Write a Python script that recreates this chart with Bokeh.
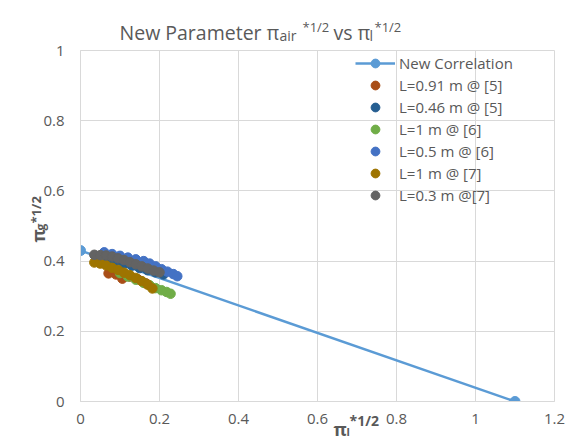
import math
from bokeh.plotting import figure
from bokeh.models import Legend, LegendItem, FixedTicker, Range1d
from bokeh.core.properties import value
from bokeh.embed import file_html
from bokeh.resources import INLINE

# ---------------- data ----------------
corr_x = [0.0, 1.1]
corr_y = [0.43, 0.0]

l091_5_x = [0.071, 0.09, 0.106, 0.125, 0.145, 0.165]
l091_5_y = [0.365, 0.362, 0.350, 0.356, 0.348, 0.337]

l046_5_x = [0.07, 0.09, 0.11, 0.13, 0.15, 0.17, 0.19, 0.21]
l046_5_y = [0.405, 0.400, 0.393, 0.387, 0.380, 0.374, 0.368, 0.362]

l1_6_x = [0.10, 0.12, 0.14, 0.16, 0.175, 0.19, 0.205, 0.218, 0.228]
l1_6_y = [0.366, 0.356, 0.347, 0.338, 0.331, 0.323, 0.317, 0.312, 0.307]

l05_6_x = [0.06, 0.08, 0.10, 0.12, 0.14, 0.16, 0.175, 0.19, 0.205, 0.22, 0.235, 0.245]
l05_6_y = [0.425, 0.420, 0.415, 0.410, 0.405, 0.400, 0.393, 0.385, 0.377, 0.370, 0.363, 0.357]

l1_7_x = [0.035, 0.05, 0.065, 0.08, 0.095, 0.11, 0.125, 0.14, 0.155, 0.17, 0.182]
l1_7_y = [0.396, 0.393, 0.388, 0.381, 0.375, 0.367, 0.360, 0.352, 0.343, 0.333, 0.322]

l03_7_x = [0.035, 0.05, 0.065, 0.08, 0.095, 0.11, 0.125, 0.14, 0.155, 0.17, 0.185, 0.20]
l03_7_y = [0.418, 0.417, 0.416, 0.413, 0.408, 0.403, 0.397, 0.391, 0.385, 0.379, 0.373, 0.368]

series_names = ["New Correlation", "L=0.91 m @ [5]", "L=0.46 m @ [5]", "L=1 m @ [6]",
                "L=0.5 m @ [6]", "L=1 m @ [7]", "L=0.3 m @[7]"]

X_TICKS = [0, 0.2, 0.4, 0.6, 0.8, 1, 1.2]
X_TICK_LABELS = ["0", "0.2", "0.4", "0.6", "0.8", "1", "1.2"]
Y_TICKS = [0, 0.2, 0.4, 0.6, 0.8, 1]
Y_TICK_LABELS = ["0", "0.2", "0.4", "0.6", "0.8", "1"]

# ---------------- layout ----------------
W, H = 573, 444
FL, FR, FT, FB = 80, 19, 50, 43
XMAX, YMAX = 1.2, 1.0
FONT = "Open Sans"
TXT = "#595959"
GRID = "#d9d9d9"

p = figure(width=W, height=H, x_range=Range1d(0, XMAX), y_range=Range1d(0, YMAX),
           output_backend="svg", toolbar_location=None,
           min_border_left=FL, min_border_right=FR, min_border_top=FT, min_border_bottom=FB)
p.background_fill_color = "white"
p.border_fill_color = "white"
p.outline_line_color = GRID

p.xaxis.ticker = FixedTicker(ticks=X_TICKS)
p.yaxis.ticker = FixedTicker(ticks=Y_TICKS)
p.xaxis.major_label_overrides = dict(zip(X_TICKS, X_TICK_LABELS))
p.yaxis.major_label_overrides = dict(zip(Y_TICKS, Y_TICK_LABELS))
for ax in (p.xaxis, p.yaxis):
    ax.axis_line_color = GRID
    ax.major_tick_line_color = None
    ax.minor_tick_line_color = None
    ax.major_tick_out = 0
    ax.major_tick_in = 0
    ax.major_label_text_font = FONT
    ax.major_label_text_font_size = "15px"
    ax.major_label_text_color = TXT
p.xaxis.major_label_standoff = 12
p.yaxis.major_label_standoff = 16
p.grid.grid_line_color = GRID
p.grid.grid_line_width = 1

colors = ["#5B9BD5", "#A94E17", "#255E91", "#70AD47", "#4472C4", "#9E7400", "#636363"]

r_line = p.line(corr_x, corr_y, line_color=colors[0], line_width=2.5)
r_pts = p.scatter(corr_x, corr_y, size=10, color=colors[0])
items = [LegendItem(label=series_names[0], renderers=[r_line, r_pts])]

data = [(l091_5_x, l091_5_y), (l046_5_x, l046_5_y), (l1_6_x, l1_6_y),
        (l05_6_x, l05_6_y), (l1_7_x, l1_7_y), (l03_7_x, l03_7_y)]
for i, (xs, ys) in enumerate(data):
    r = p.scatter(xs, ys, size=9.5, color=colors[i + 1])
    items.append(LegendItem(label=series_names[i + 1], renderers=[r]))

legend = Legend(items=items, location=(275, 195), orientation="vertical",
                glyph_width=40, glyph_height=22, label_height=22, spacing=0,
                label_standoff=4, padding=0, margin=0,
                border_line_color=None, background_fill_alpha=0,
                label_text_font=FONT, label_text_font_size="15px", label_text_color=TXT)
p.add_layout(legend)

# ---- texts with sub/superscripts: text glyphs on the overlay level (not clipped to the frame)
def dx(px):
    return (px - FL) / (W - FL - FR) * XMAX

def dy(py):
    return (H - FB - py) / (H - FT - FB) * YMAX

def txt(s, px, py, size, bold=False, angle=0.0):
    r = p.text(x=[dx(px)], y=[dy(py)], text=[s], text_font=value(FONT),
               text_font_size=value(f"{size}px"), text_color=TXT,
               text_font_style="bold" if bold else "normal",
               text_align="left", text_baseline="alphabetic", angle=angle)
    r.level = "overlay"

# title: New Parameter π_air^*1/2 vs π_l^*1/2
txt("New Parameter", 119, 32, 19.5)
txt("\u03c0", 266, 32, 19.5)
txt("air", 279, 35, 14)
txt("*1/2", 302, 26, 13)
txt("vs", 333, 32, 19.5)
txt("\u03c0", 357, 32, 19.5)
txt("l", 369, 35, 14)
txt("*1/2", 374, 26, 13)

# x axis label: π_l^*1/2
txt("\u03c0", 333, 428, 18, bold=True)
txt("l", 346, 431, 11, bold=True)
txt("*1/2", 349, 420, 14, bold=True)

# y axis label: π_g^*1/2 (rotated)
A = math.pi / 2
txt("\u03c0", 37, 242, 18, bold=True, angle=A)
txt("g", 40, 230, 12, bold=True, angle=A)
txt("*1/2", 35, 223, 13, bold=True, angle=A)

open("out.html", "w").write(file_html(p, INLINE))
